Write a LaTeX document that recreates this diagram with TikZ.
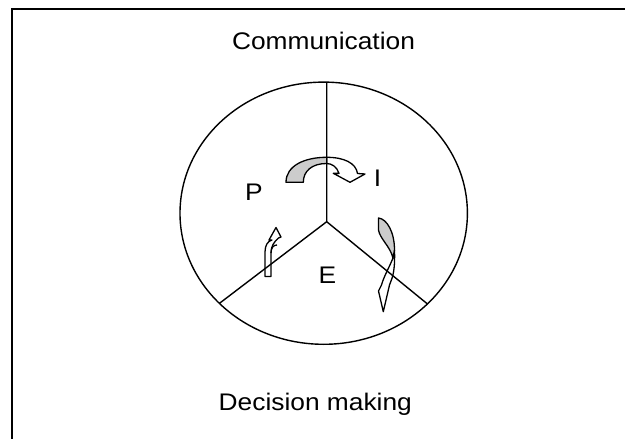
\documentclass[tikz,border=0pt]{standalone}
\usepackage{fontspec}
\setmainfont{Liberation Sans}[FakeStretch=1.097]
\begin{document}
\begin{tikzpicture}[x=1pt,y=-1pt,
  lbl/.style={font=\fontsize{24}{28}\selectfont, inner sep=0pt, anchor=base},
  ln/.style={line width=1.4pt},
  blk/.style={line width=1.3pt, line join=round},
  shade/.style={line width=1.3pt, line join=round, fill=black!20}]
\useasboundingbox (0,0) rectangle (625,439);
% frame
\draw[line width=2pt] (12,440) -- (12,9) -- (625,9);
% circle
\draw[ln] (323.7,213.2) ellipse [x radius=143.7, y radius=131.1];
\coordinate (J) at (326.7,221.7);
\coordinate (T) at (326.7,82.1);
\coordinate (L) at (219.5,303.3);
\coordinate (R) at (427.5,304);
% top curved arrow
\draw[shade] (286,182.3) .. controls (286,166) and (304,157.3) .. (326.7,157.3)
  -- (326.7,163.5) .. controls (312,163.5) and (303.3,171) .. (303.3,182.3) -- cycle;
\draw[blk] (326.7,157.3) .. controls (344,157.3) and (356,163) .. (357.5,173.5)
  -- (365,174) -- (350,182.3) -- (333.3,173.3) -- (339,173.4)
  .. controls (337,167) and (332,163.5) .. (326.7,163.5);
% lower-left arrow
\draw[blk] (265,276.5) -- (265,252) .. controls (265,245) and (268,241) .. (272,240)
  -- (269,240) -- (276,227.5) -- (281,237) -- (278.5,238)
  .. controls (274,242) and (271,246) .. (271,253) -- (271,276.5) -- cycle;
\draw[blk] (271,253) .. controls (271,247) and (274,245) .. (277,245);
% lower-right arrow
\draw[shade] (378.5,218) .. controls (387,219) and (394.5,232) .. (394.5,250)
  -- (393,258) .. controls (390,246) and (380,239) .. (378.5,230) -- cycle;
\draw[blk] (394.5,250) .. controls (395,264) and (394,274) .. (391,281)
  -- (389.5,285) -- (383.3,311.7) -- (378.5,291) -- (381.5,285)
  .. controls (384,276) and (389,268) .. (393,258);
% divider lines
\draw[ln] (T) -- (J) (L) -- (J) -- (R);
% labels
\node[lbl] (comm) at (323.5,49.3) {Communication};
\node[lbl] (P) at (253.8,200) {P};
\node[lbl] (I) at (377.5,186) {I};
\node[lbl] (E) at (327.5,283.3) {E};
\node[lbl] (dm) at (315.3,410) {Decision making};
\end{tikzpicture}
\end{document}
